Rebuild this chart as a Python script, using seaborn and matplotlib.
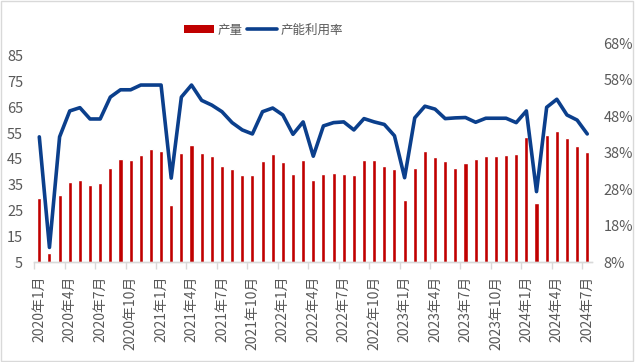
import numpy as np
import pandas as pd
import matplotlib.pyplot as plt
import seaborn as sns
from matplotlib.patches import Patch, Rectangle
from matplotlib.lines import Line2D

# -----------------------
# Data
# -----------------------
years = [2020] * 12 + [2021] * 12 + [2022] * 12 + [2023] * 12 + [2024] * 7
months = list(range(1, 13)) * 4 + list(range(1, 8))
labels = [f"{y}年{m}月" for y, m in zip(years, months)]

output = [30.0, 8.5, 31.0, 36.1, 36.8, 34.9, 35.7, 41.5, 45.0, 44.6,
          46.6, 48.9, 48.1, 27.1, 47.3, 50.4, 47.3, 46.2, 42.3, 41.1,
          38.8, 38.8, 44.2, 47.0, 43.8, 39.2, 44.6, 36.8, 39.2, 39.6,
          39.2, 38.8, 44.6, 44.6, 42.3, 41.1, 29.1, 41.5, 48.1, 45.8,
          44.2, 41.5, 43.4, 45.0, 46.2, 46.2, 46.6, 47.0, 53.5, 27.9,
          54.3, 56.0, 53.2, 50.0, 47.7]

utilization = [42.3, 12.0, 42.3, 49.4, 50.3, 47.2, 47.2, 53.2, 55.2, 55.2,
               56.5, 56.5, 56.5, 31.0, 53.2, 56.5, 52.3, 51.0, 49.2, 46.2,
               44.2, 43.1, 49.2, 50.2, 48.3, 43.0, 46.4, 37.0, 45.3, 46.2,
               46.4, 44.2, 47.3, 46.4, 45.7, 42.6, 31.1, 47.5, 50.7, 49.9,
               47.3, 47.5, 47.6, 46.3, 47.4, 47.4, 47.4, 46.2, 49.4, 27.3,
               50.4, 52.6, 48.3, 46.9, 43.1]

df = pd.DataFrame({"月份": labels, "产量": output, "产能利用率": utilization})
df["pos"] = np.arange(len(df))

# -----------------------
# Style
# -----------------------
sns.set_theme(style="white")
plt.rcParams['font.family'] = ['Noto Sans CJK SC', 'DejaVu Sans']

red = "#C00000"
blue = "#0B3F8C"
grey = "#595959"

fig = plt.figure(figsize=(6.35, 3.62), dpi=100)
ax = fig.add_axes([0.0539, 0.2762, 0.8789, 0.6048])

# bars: production
sns.barplot(data=df, x="月份", y="产量", color=red, saturation=1,
            width=0.4, ax=ax)

# line: utilization on right axis
ax2 = ax.twinx()
sns.lineplot(data=df, x="pos", y="产能利用率", color=blue, lw=2.6, ax=ax2)

ax.set_xlim(-0.5, len(df) - 0.5)
ax.set_ylim(5, 90)
ax.set_yticks(range(5, 86, 10))
ax2.set_ylim(8, 68)
ax2.set_yticks(range(8, 69, 10))
ax2.set_yticklabels([f"{v}%" for v in range(8, 69, 10)])

# x ticks: labels every 3 months, tick marks at category boundaries
ax.set_xticks(df["pos"][::3])
ax.set_xticklabels(df["月份"][::3], rotation=90)
ax.set_xticks(np.arange(-0.5, len(df), 3), minor=True)
ax.tick_params(axis="x", which="major", length=0, pad=10,
               labelsize=10, labelcolor=grey)
ax.tick_params(axis="x", which="minor", length=5, width=1,
               color="#D9D9D9", bottom=True)
ax.tick_params(axis="y", length=0, pad=8, labelsize=10.5, labelcolor=grey)
ax2.tick_params(axis="y", length=0, pad=8, labelsize=10.5, labelcolor=grey)

ax.set_xlabel("")
ax.set_ylabel("")
ax2.set_xlabel("")
ax2.set_ylabel("")

for a in (ax, ax2):
    for s in ("top", "left", "right"):
        a.spines[s].set_visible(False)
    a.spines["bottom"].set_color("#D9D9D9")
    a.spines["bottom"].set_linewidth(1)
    a.grid(False)

# legend
handles = [Patch(facecolor=red, edgecolor="none"),
           Line2D([0], [0], color=blue, lw=2.6)]
fig.legend(handles, ["产量", "产能利用率"], loc="center",
           bbox_to_anchor=(0.415, 0.917), ncol=2, frameon=False,
           fontsize=9, labelcolor=grey, handlelength=2.4,
           handleheight=0.6, columnspacing=0.3, handletextpad=0.3)

# light frame around the whole picture
fig.patches.append(Rectangle((0.002, 0.003), 0.995, 0.993,
                             transform=fig.transFigure, fill=False,
                             edgecolor="#D9D9D9", lw=1))

fig.savefig("out.png", dpi=100)
